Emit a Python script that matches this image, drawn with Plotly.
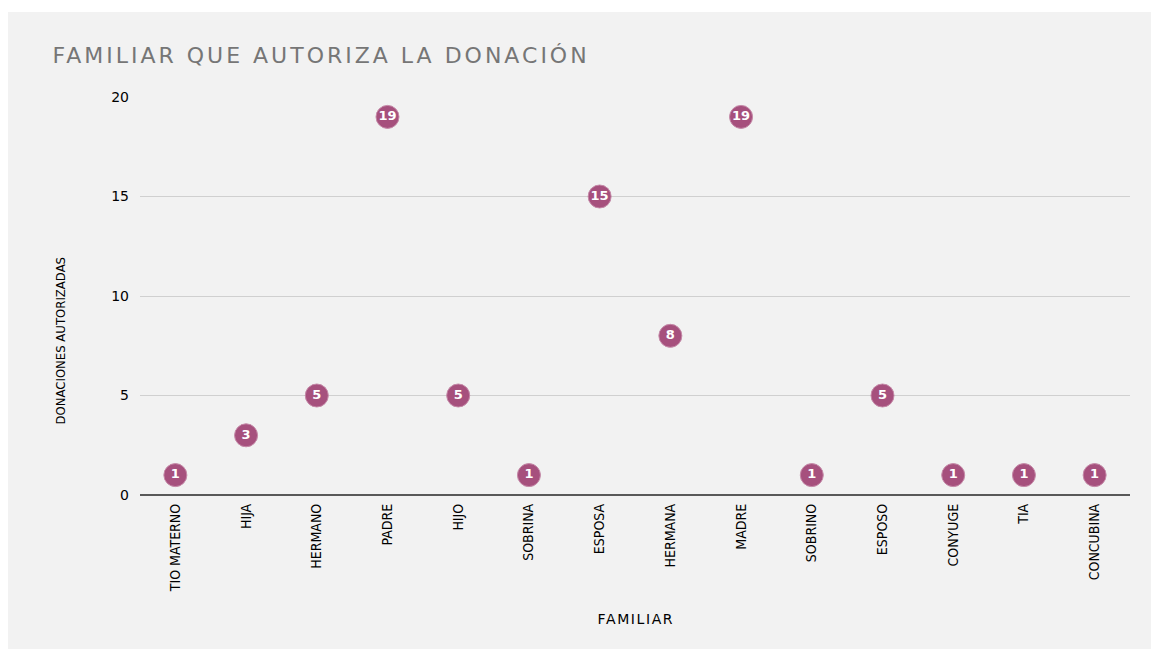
import plotly.graph_objects as go

categories = ["TIO MATERNO", "HIJA", "HERMANO", "PADRE", "HIJO", "SOBRINA", "ESPOSA",
              "HERMANA", "MADRE", "SOBRINO", "ESPOSO", "CONYUGE", "TIA", "CONCUBINA"]
values = [1, 3, 5, 19, 5, 1, 15, 8, 19, 1, 5, 1, 1, 1]
y_ticks = [0, 5, 10, 15, 20]

OFF = 8  # page body margin
W, H = 1159 - 2 * OFF, 649 - OFF
L, R, T, B = 139.6 - OFF, 1130.4 - OFF, 97 - OFF, 495 - OFF
pw, ph = R - L, B - T

fig = go.Figure()
fig.add_trace(go.Scatter(
    x=categories, y=values, mode="markers+text",
    marker=dict(symbol="circle", size=23, color="#a6507d",
                line=dict(width=1, color="#c58aa8")),
    text=[str(v) for v in values], textposition="middle center",
    textfont=dict(family="DejaVu Sans", size=13, color="white", weight="bold"),
    hoverinfo="x+y", showlegend=False, cliponaxis=False,
))

def px(x):
    return (x - OFF - L) / pw

def py(y):
    return (B - (y - OFF)) / ph

fig.add_shape(type="rect", xref="paper", yref="paper",
              x0=px(7), x1=px(1153), y0=py(649), y1=py(12),
              fillcolor="#f2f2f2", line=dict(width=0), layer="below")

# title: centre kept so that letter-spaced text starts near x=52
fig.add_annotation(text="FAMILIAR QUE AUTORIZA LA DONACIÓN", xref="paper", yref="paper",
                   x=px(321), y=py(55), xanchor="center", yanchor="middle", showarrow=False,
                   font=dict(family="DejaVu Sans", size=22, color="#767676"))
fig.add_annotation(text="DONACIONES AUTORIZADAS", xref="paper", yref="paper",
                   x=px(60), y=py(340), xanchor="center", yanchor="middle", showarrow=False,
                   textangle=-90,
                   font=dict(family="DejaVu Sans Condensed, Liberation Sans Narrow, Open Sans", size=13, color="#000000"))
fig.add_annotation(text="FAMILIAR", xref="paper", yref="paper",
                   x=px(636), y=py(619), xanchor="center", yanchor="middle", showarrow=False,
                   font=dict(family="DejaVu Sans", size=14, color="#000000"))

fig.update_layout(
    width=W, height=H,
    margin=dict(l=L, r=W - R, t=T, b=H - B, pad=0),
    paper_bgcolor="white", plot_bgcolor="rgba(0,0,0,0)",
    xaxis=dict(type="category", range=[-0.5, 13.5], showgrid=False, tickangle=-90,
               tickfont=dict(family="DejaVu Sans Condensed, Liberation Sans Narrow, Open Sans", size=14, color="#000000"),
               ticks="", showline=False, zeroline=False, ticklabelstandoff=5),
    yaxis=dict(range=[0, 20], tickvals=y_ticks, showgrid=True, gridcolor="#d0d0d0", gridwidth=1,
               zeroline=True, zerolinecolor="#595959", zerolinewidth=1.5,
               tickfont=dict(family="DejaVu Sans", size=14, color="#000000"),
               ticks="", ticklabelstandoff=10, showline=False),
    font=dict(family="DejaVu Sans"),
)

post = """
document.documentElement.style.overflow='hidden';
document.body.style.overflow='hidden';
var gd=document.getElementById('{plot_id}');
function ls(){
  gd.querySelectorAll('.annotation-text').forEach(function(t){
    var s=t.textContent;
    if(s.indexOf('FAMILIAR QUE')===0){t.style.letterSpacing='3px';}
    else if(s==='FAMILIAR'){t.style.letterSpacing='1.6px';}
  });
}
ls();
gd.on('plotly_afterplot', ls);
"""

fig.write_html("out.html", post_script=post)
